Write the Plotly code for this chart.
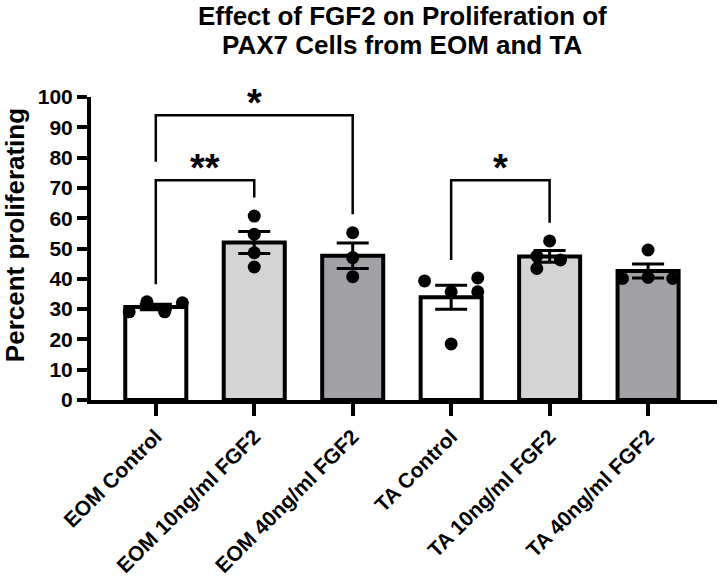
import numpy as np
import plotly.graph_objects as go

# ---- data ----
categories = ["EOM Control", "EOM 10ng/ml FGF2", "EOM 40ng/ml FGF2",
              "TA Control", "TA 10ng/ml FGF2", "TA 40ng/ml FGF2"]
eom_control = [29.1, 32.4, 29.1, 32.1]
eom_10 = [60.7, 54.7, 48.6, 43.9]
eom_40 = [55.2, 47.0, 40.7]
ta_control = [39.3, 35.7, 40.3, 35.7, 18.5]
ta_10 = [52.5, 47.5, 46.2, 43.4]
ta_40 = [49.5, 40.1, 40.5, 40.1]
groups = [eom_control, eom_10, eom_40, ta_control, ta_10, ta_40]

# horizontal spread of individual points (category units)
point_spread = [
    [-0.27, -0.09, 0.09, 0.27],
    [0, 0, 0, 0],
    [0, 0, 0],
    [-0.27, 0, 0.27, 0.27, 0],
    [0, -0.13, 0.11, -0.13],
    [0, -0.26, 0, 0.25],
]

# significance comparisons: (left, right, bracket level, left leg end, right leg end, label)
comparisons = [
    (0, 1, 72.5, 38.2, 66.8, "**"),
    (0, 2, 94.0, 78.6, 61.3, "*"),
    (3, 4, 72.5, 46.2, 58.5, "*"),
]

yticks = list(range(0, 101, 10))
title_lines = ["Effect of FGF2 on Proliferation of", "PAX7 Cells from EOM and TA"]
y_title = "Percent proliferating"

# ---- styling ----
FONT = "Liberation Sans, Arial, sans-serif"
bar_colors = ["#ffffff", "#d4d4d4", "#a2a1a6", "#ffffff", "#d4d4d4", "#a2a1a6"]

means = [float(np.mean(g)) for g in groups]
sems = [float(np.std(g, ddof=1) / np.sqrt(len(g))) for g in groups]
xpos = list(range(len(categories)))

fig = go.Figure()
fig.add_trace(go.Bar(
    x=xpos, y=means, width=0.62,
    marker=dict(color=bar_colors, line=dict(color="black", width=4)),
    error_y=dict(type="data", array=sems, visible=True, color="black",
                 thickness=3, width=16),
    showlegend=False, hoverinfo="skip",
))

px_, py_ = [], []
for i, (g, sp) in enumerate(zip(groups, point_spread)):
    for v, o in zip(g, sp):
        px_.append(i + o)
        py_.append(v)
fig.add_trace(go.Scatter(
    x=px_, y=py_, mode="markers",
    marker=dict(color="black", size=13, line=dict(width=0)),
    showlegend=False, cliponaxis=False,
))

shapes = []
annotations = []
for (a, b, lvl, la, lb, lab) in comparisons:
    shapes.append(dict(
        type="path", xref="x", yref="y",
        path=f"M {a} {la} L {a} {lvl} L {b} {lvl} L {b} {lb}",
        line=dict(color="black", width=2.5),
    ))
    annotations.append(dict(
        x=(a + b) / 2, y=lvl, xref="x", yref="y", text=lab,
        showarrow=False, yanchor="bottom", yshift=-11,
        font=dict(family=FONT, size=38, color="black", weight="bold"),
    ))

# layout geometry (pixels)
W, H = 720, 587
L, R = 91, 3
top, bottom = 96.7, 187
plot_h = H - top - bottom
plot_w = W - L - R


def paper_y(py):
    return (H - bottom - py) / plot_h


def paper_x(px):
    return (px - L) / plot_w


annotations += [
    dict(text=title_lines[0], x=paper_x(402), xref="paper",
         y=paper_y(16), yref="paper", showarrow=False, xanchor="center", yanchor="middle",
         font=dict(family=FONT, size=26, color="black", weight="bold")),
    dict(text=title_lines[1], x=paper_x(402), xref="paper",
         y=paper_y(45), yref="paper", showarrow=False, xanchor="center", yanchor="middle",
         font=dict(family=FONT, size=26, color="black", weight="bold")),
    dict(text=y_title, x=paper_x(15), xref="paper", y=paper_y(235), yref="paper",
         textangle=-90, showarrow=False, xanchor="center", yanchor="middle",
         font=dict(family=FONT, size=26, color="black", weight="bold")),
]

fig.update_layout(
    width=W, height=H,
    margin=dict(l=L, r=R, t=top, b=bottom, autoexpand=False),
    paper_bgcolor="white", plot_bgcolor="white",
    font=dict(family=FONT, color="black"),
    shapes=shapes, annotations=annotations,
)
fig.update_xaxes(
    range=[-0.658, 5.70], tickmode="array", tickvals=xpos, ticktext=categories,
    tickangle=-45, ticks="outside", ticklen=12, tickwidth=3.5, tickcolor="black",
    showline=True, linewidth=4, linecolor="black", showgrid=False, zeroline=False,
    automargin=False,
    tickfont=dict(family=FONT, size=21, color="black", weight="bold"),
)
fig.update_yaxes(
    range=[0, 100], tickmode="array", tickvals=yticks, ticktext=[str(t) for t in yticks],
    ticks="outside", ticklen=10, tickwidth=3.5, tickcolor="black",
    showline=True, linewidth=4, linecolor="black", showgrid=False, zeroline=False,
    automargin=False,
    tickfont=dict(family=FONT, size=21, color="black", weight="bold"),
)

fig.write_html("out.html")
